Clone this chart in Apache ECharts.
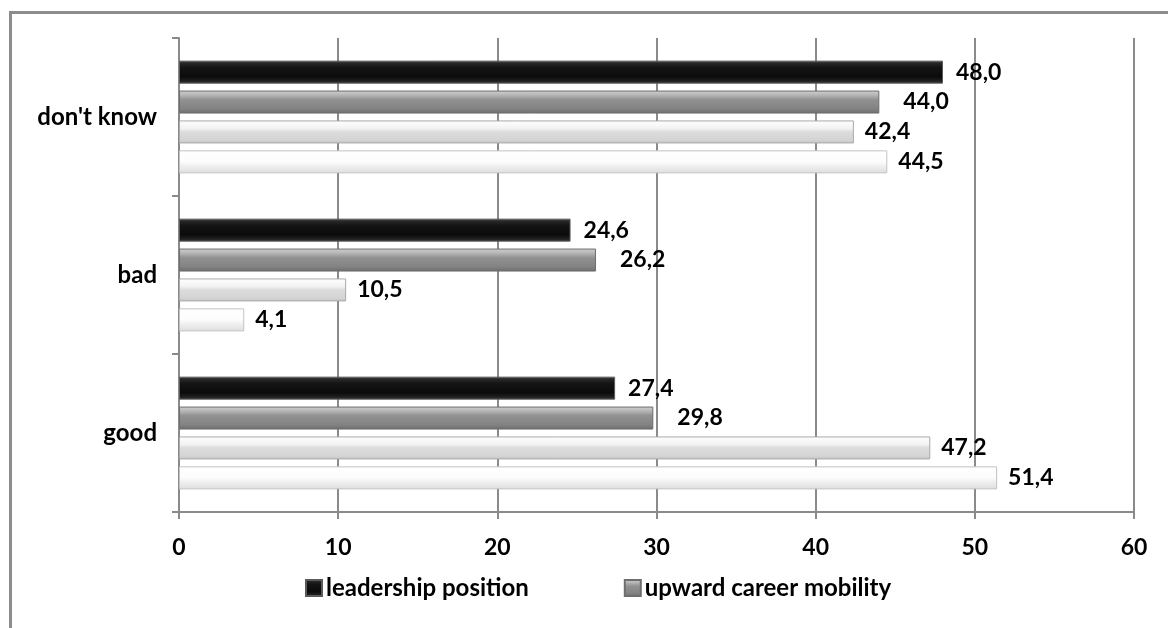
<!DOCTYPE html>
<html>
<head>
<meta charset="utf-8">
<script src="https://cdn.jsdelivr.net/npm/echarts@6/dist/echarts.min.js"></script>
<style>
  html, body { margin: 0; padding: 0; background: #ffffff; }
  #chart { width: 1168px; height: 628px; }
</style>
</head>
<body>
<div id="chart"></div>
<script>
// Answer categories, listed bottom to top along the vertical axis
const categories = ['good', 'bad', "don't know"];

// Share of respondents (%) per answer, one array per series
const leadershipPosition = [27.4, 24.6, 48.0];
const upwardCareerMobility = [29.8, 26.2, 44.0];
const series3Values = [47.2, 10.5, 42.4];
const series4Values = [51.4, 4.1, 44.5];

const seriesNames = ['leadership position', 'upward career mobility', 'series 3', 'series 4'];
const xTicks = { min: 0, max: 60, interval: 10 };

const FONT = 'Lato';
const TEXT_SIZE = 24;
const NUM_SIZE = 23;

function vGrad(stops) {
  return new echarts.graphic.LinearGradient(0, 0, 0, 1,
    stops.map(s => ({ offset: s[0], color: s[1] })));
}

// Bevelled fills for each series
const styles = [
  { fill: vGrad([[0, '#4d4d4d'], [0.12, '#262626'], [0.3, '#141414'], [0.7, '#0b0b0b'], [0.88, '#1f1f1f'], [1, '#3c3c3c']]), border: '#5a5a5a', dist: 13 },
  { fill: vGrad([[0, '#cfcfcf'], [0.18, '#b8b8b8'], [0.4, '#919191'], [0.8, '#828282'], [1, '#6c6c6c']]), border: '#6e6e6e', dist: 24 },
  { fill: vGrad([[0, '#ffffff'], [0.35, '#f2f2f2'], [0.5, '#dcdcdc'], [0.85, '#d4d4d4'], [1, '#c4c4c4']]), border: '#a9a9a9', dist: 11 },
  { fill: vGrad([[0, '#ffffff'], [0.5, '#fcfcfc'], [0.7, '#eeeeee'], [1, '#dedede']]), border: '#c2c2c2', dist: 11 }
];

const values = [leadershipPosition, upwardCareerMobility, series3Values, series4Values];

const series = values.map((vals, i) => ({
  name: seriesNames[i],
  type: 'bar',
  data: vals,
  barWidth: 23,
  barGap: '30%',
  itemStyle: {
    color: styles[i].fill,
    borderColor: styles[i].border,
    borderWidth: 1
  },
  label: {
    show: true,
    position: 'right',
    distance: styles[i].dist,
    fontFamily: FONT,
    fontWeight: 'bold',
    fontSize: NUM_SIZE,
    color: '#000000',
    formatter: p => p.value.toFixed(1).replace('.', ',')
  },
  emphasis: { disabled: true }
}));

const chart = echarts.init(document.getElementById('chart'), null, { renderer: 'canvas' });

chart.setOption({
  animation: false,
  backgroundColor: '#ffffff',
  textStyle: { fontFamily: FONT },
  graphic: [{
    type: 'rect',
    shape: { x: 10.5, y: 12.5, width: 1200, height: 700 },
    style: { fill: 'none', stroke: '#8c8c8c', lineWidth: 3 },
    silent: true
  }],
  grid: { left: 179, right: 34, top: 38, bottom: 116, containLabel: false },
  legend: {
    data: [seriesNames[0], seriesNames[1]],
    left: 300,
    top: 571,
    itemGap: 95,
    itemWidth: 16,
    itemHeight: 16,
    icon: 'rect',
    textStyle: { fontFamily: FONT, fontWeight: 'bold', fontSize: TEXT_SIZE, color: '#000000', padding: [0, 0, 0, -1] }
  },
  xAxis: {
    type: 'value',
    min: xTicks.min,
    max: xTicks.max,
    interval: xTicks.interval,
    axisLine: { show: true, lineStyle: { color: '#8a8a8a', width: 2 } },
    axisTick: { show: true, length: 7, lineStyle: { color: '#8a8a8a', width: 2 } },
    splitLine: { show: true, lineStyle: { color: '#8a8a8a', width: 2 } },
    axisLabel: { margin: 24, fontFamily: FONT, fontWeight: 'bold', fontSize: NUM_SIZE, color: '#000000' }
  },
  yAxis: {
    type: 'category',
    data: categories,
    axisLine: { show: true, lineStyle: { color: '#8a8a8a', width: 2 } },
    axisTick: { show: true, length: 7, lineStyle: { color: '#8a8a8a', width: 2 } },
    splitLine: { show: false },
    axisLabel: { margin: 22, fontFamily: FONT, fontWeight: 'bold', fontSize: TEXT_SIZE, color: '#000000', padding: [6, 0, 0, 0] }
  },
  series: series
});
</script>
</body>
</html>
